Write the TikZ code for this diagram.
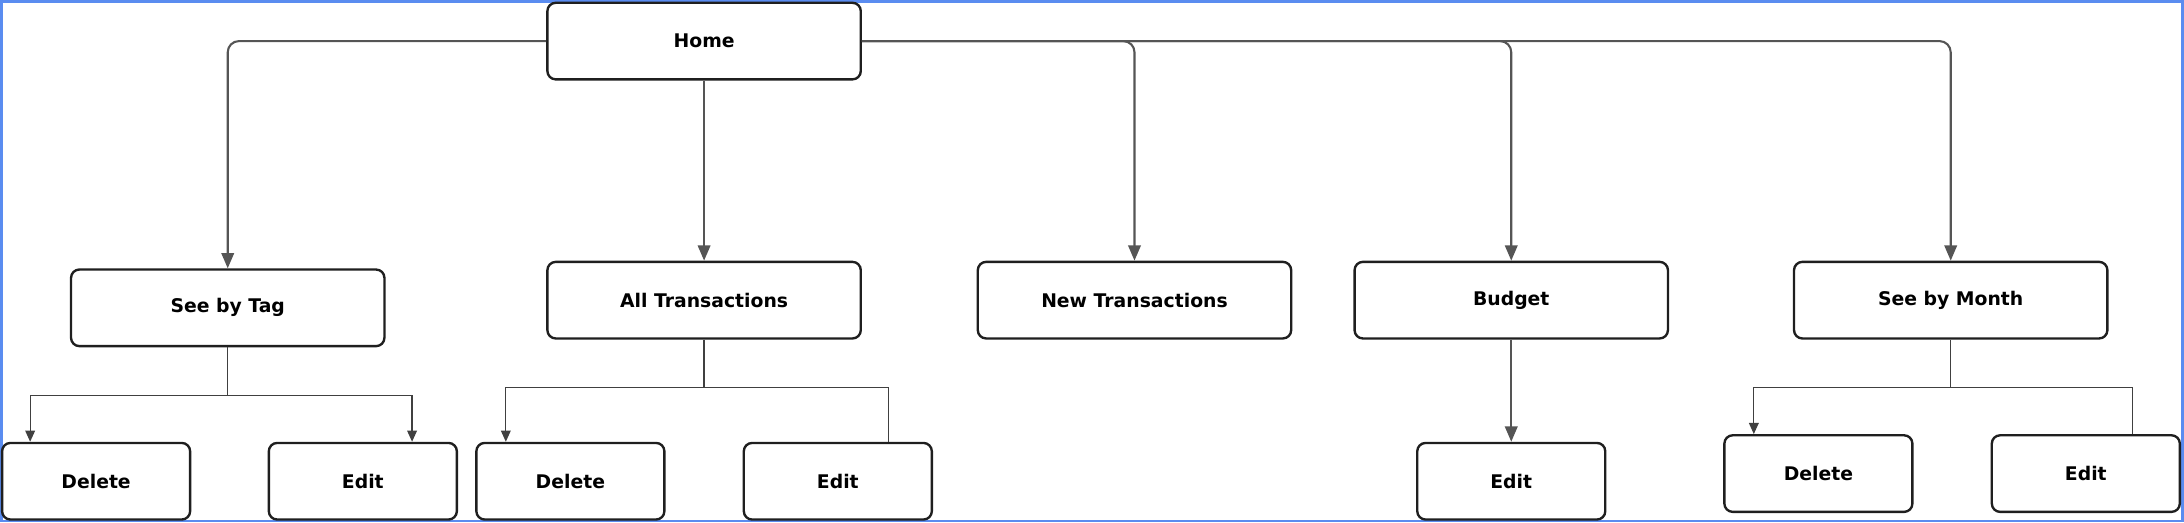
\documentclass[tikz,border=0pt]{standalone}
\usepackage{fontspec}
\setmainfont{DejaVu Sans}
\usetikzlibrary{arrows.meta}
\definecolor{framblue}{RGB}{90,140,240}
\definecolor{linkgray}{RGB}{85,85,85}
\begin{document}
\begin{tikzpicture}[x=1pt, y=-1pt,
	pagebox/.style={draw=black!88, line width=1.7pt, rounded corners=6pt, fill=white, minimum width=225pt, minimum height=55pt, font=\bfseries\fontsize{13.5}{16}\selectfont},
	leafbox/.style={pagebox, minimum width=135pt},
	mainlink/.style={draw=linkgray, line width=1.5pt, rounded corners=8pt, -{Triangle[length=11pt,width=9pt]}},
	sublink/.style={draw=black!75, line width=0.9pt},
	subarrow/.style={sublink, -{Triangle[length=8pt,width=7pt]}}]
	\useasboundingbox (0.00,0.00) rectangle (1568.00,375.00);
	\draw[draw=framblue, line width=2pt] (1.00,1.00) rectangle (1567.00,374.00);
	\node[pagebox] (home) at (505.50,29.50) {Home};
	\node[pagebox] (tag) at (163.50,221.00) {See by Tag};
	\node[pagebox] (alltr) at (505.50,215.50) {All Transactions};
	\node[pagebox] (newtr) at (814.50,215.50) {New Transactions};
	\node[pagebox] (budget) at (1085.00,215.50) {Budget};
	\node[pagebox] (month) at (1400.50,215.50) {See by Month};
	\node[leafbox] (tagdel) at (69.00,345.50) {Delete};
	\node[leafbox] (tagedit) at (260.50,345.50) {Edit};
	\node[leafbox] (alldel) at (409.50,345.50) {Delete};
	\node[leafbox] (alledit) at (601.50,345.50) {Edit};
	\node[leafbox] (budedit) at (1085.00,345.50) {Edit};
	\node[leafbox] (mondel) at (1305.50,340.00) {Delete};
	\node[leafbox] (monedit) at (1497.50,340.00) {Edit};
	\coordinate (tagsplit) at (163.50,284.00);
	\coordinate (allsplit) at (505.50,278.00);
	\coordinate (monsplit) at (1400.50,278.00);
	\draw[mainlink] (home.west) -| (tag.north);
	\draw[mainlink] (home.south) -- (alltr.north);
	\draw[mainlink] (home.east) -| (newtr.north);
	\draw[mainlink] (home.east) -| (budget.north);
	\draw[mainlink] (home.east) -| (month.north);
	\draw[mainlink] (budget.south) -- (budedit.north);
	\draw[sublink] (tag.south) -- (tagsplit);
	\draw[subarrow] (tagsplit) -| ([xshift=21pt]tagdel.north west);
	\draw[subarrow] (tagsplit) -| ([xshift=-33pt]tagedit.north east);
	\draw[sublink] (alltr.south) -- (allsplit);
	\draw[subarrow] (allsplit) -| ([xshift=22pt]alldel.north west);
	\draw[sublink] (allsplit) -| ([xshift=-32pt]alledit.north east);
	\draw[sublink] (month.south) -- (monsplit);
	\draw[subarrow] (monsplit) -| ([xshift=22pt]mondel.north west);
	\draw[sublink] (monsplit) -| ([xshift=-35pt]monedit.north east);
\end{tikzpicture}
\end{document}
